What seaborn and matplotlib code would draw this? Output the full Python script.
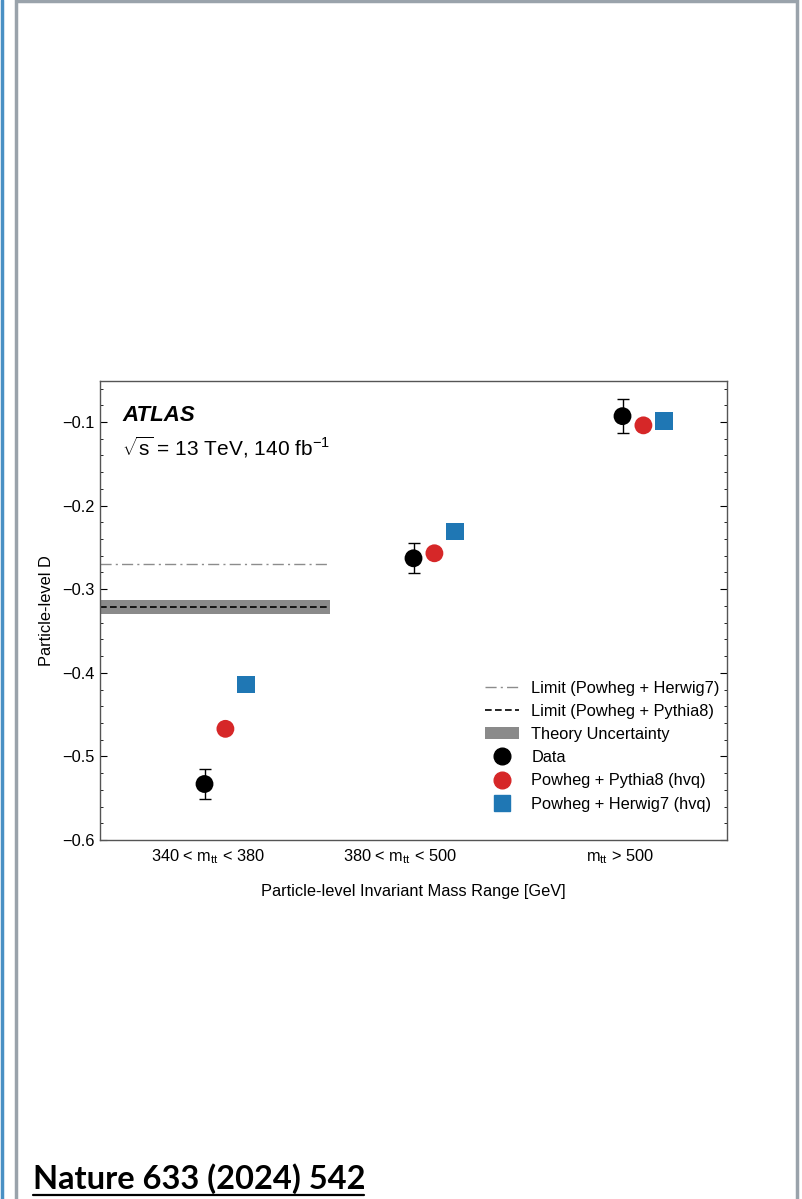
import numpy as np
import pandas as pd
import matplotlib
matplotlib.use("Agg")
import matplotlib.pyplot as plt
from matplotlib.lines import Line2D
from matplotlib.patches import Patch
from matplotlib.ticker import MultipleLocator
import seaborn as sns

# Mass bins and measured / predicted entanglement observable D
bin_labels = ["340 < m$_{\\rm tt}$ < 380", "380 < m$_{\\rm tt}$ < 500", "m$_{\\rm tt}$ > 500"]
data_D = [-0.533, -0.263, -0.093]
data_err = [0.018, 0.018, 0.020]
pythia_D = [-0.467, -0.257, -0.104]
herwig_D = [-0.414, -0.231, -0.099]

# Entanglement limits and theory uncertainty band (first bin only)
limit_herwig = -0.270
limit_pythia = -0.321
theory_band = (-0.330, -0.313)

sns.set_theme(style="white")
plt.rcParams["font.family"] = ["Liberation Sans", "DejaVu Sans"]
plt.rcParams["mathtext.fontset"] = "custom"
plt.rcParams["mathtext.rm"] = "Liberation Sans"
plt.rcParams["mathtext.it"] = "Liberation Sans:italic"
for key in ["text.color", "axes.labelcolor", "xtick.color", "ytick.color"]:
    plt.rcParams[key] = "black"

FS = 11.8

fig = plt.figure(figsize=(8.02, 11.99), dpi=100)
ax = fig.add_axes([0.1247, 0.2994, 0.7818, 0.3828])

centers = np.arange(len(bin_labels)) + 0.5
df = pd.DataFrame({
    "x": np.concatenate([centers, centers + 0.1, centers + 0.2]),
    "D": data_D + pythia_D + herwig_D,
    "series": ["Data"] * 3 + ["Powheg + Pythia8 (hvq)"] * 3 + ["Powheg + Herwig7 (hvq)"] * 3,
})

# Limits and uncertainty band
ax.fill_between([0, 1.1], theory_band[0], theory_band[1], color="#8a8a8a", lw=0, zorder=1)
ax.hlines(limit_pythia, 0, 1.1, colors="black", linestyles=(0, (4, 2)), lw=1.2, zorder=2)
ax.hlines(limit_herwig, 0, 1.1, colors="#8c8c8c", linestyles=(0, (8, 3, 1.5, 3)), lw=1.0, zorder=2)

ax.errorbar(centers, data_D, yerr=data_err, fmt="none", ecolor="black",
            elinewidth=1.0, capsize=4, capthick=1.0, zorder=3)
sns.scatterplot(data=df, x="x", y="D", hue="series", style="series",
                palette={"Data": "black", "Powheg + Pythia8 (hvq)": "#d62728",
                         "Powheg + Herwig7 (hvq)": "#1f77b4"},
                markers={"Data": "o", "Powheg + Pythia8 (hvq)": "o",
                         "Powheg + Herwig7 (hvq)": "s"},
                s=165, linewidth=0, legend=False, ax=ax, zorder=4)

ax.set_xlim(0, 3)
ax.set_ylim(-0.6, -0.051)
ax.set_xticks([0.517, 1.435, 2.488])
ax.set_xticklabels(bin_labels, fontsize=FS)
ax.yaxis.set_minor_locator(MultipleLocator(0.02))
ax.set_yticks(np.arange(-0.6, -0.05, 0.1))
ax.set_yticklabels(["\u22120.6", "\u22120.5", "\u22120.4", "\u22120.3", "\u22120.2", "\u22120.1"], fontsize=FS)
ax.tick_params(axis="y", which="major", direction="in", length=5, width=0.8, right=True, left=True, pad=4)
ax.tick_params(axis="y", which="minor", direction="in", length=2.5, width=0.6, right=True, left=True)
ax.tick_params(axis="x", which="both", length=0, pad=5)
for sp in ax.spines.values():
    sp.set_color("#555555")
    sp.set_linewidth(1.0)

ax.set_xlabel("Particle-level Invariant Mass Range [GeV]", fontsize=FS, labelpad=13)
ax.set_ylabel("Particle-level D", fontsize=FS, labelpad=6)

ax.text(0.035, 0.925, "ATLAS", transform=ax.transAxes, fontsize=16,
        fontweight="bold", fontstyle="italic", va="center")
ax.text(0.035, 0.855, "$\\sqrt{\\mathregular{s}}$ = 13 TeV, 140 fb$^{\\mathregular{-1}}$",
        transform=ax.transAxes, fontsize=15, va="center")

handles = [
    Line2D([], [], color="#8c8c8c", ls=(0, (8, 3, 1.5, 3)), lw=1.0),
    Line2D([], [], color="black", ls=(0, (4, 2)), lw=1.2),
    Patch(facecolor="#8a8a8a", edgecolor="none"),
    Line2D([], [], ls="none", marker="o", color="black", markersize=12),
    Line2D([], [], ls="none", marker="o", color="#d62728", markersize=12),
    Line2D([], [], ls="none", marker="s", color="#1f77b4", markersize=12),
]
labels = ["Limit (Powheg + Herwig7)", "Limit (Powheg + Pythia8)", "Theory Uncertainty",
          "Data", "Powheg + Pythia8 (hvq)", "Powheg + Herwig7 (hvq)"]
ax.legend(handles, labels, loc="lower right", bbox_to_anchor=(1.012, 0.03), frameon=False,
          fontsize=FS, handlelength=2.1, handletextpad=0.75, labelspacing=0.5)

# Page frame
fig.add_artist(Line2D([0.002, 0.002], [0, 1], color="#4a90c4", lw=2.5, transform=fig.transFigure))
fig.add_artist(Line2D([0.0195, 0.0195, 0.9935, 0.9935], [0, 0.999, 0.999, 0], color="#9aa3ab",
                      lw=2.5, transform=fig.transFigure, solid_joinstyle="miter"))

fig.text(0.041, 0.0085, "Nature 633 (2024) 542", fontsize=23.5, fontweight="bold",
         family=["Lato", "DejaVu Sans"], va="baseline", color="black")
fig.add_artist(Line2D([0.041, 0.454], [0.0035, 0.0035], color="black", lw=1.6, transform=fig.transFigure))

fig.savefig("out.png", dpi=100)
